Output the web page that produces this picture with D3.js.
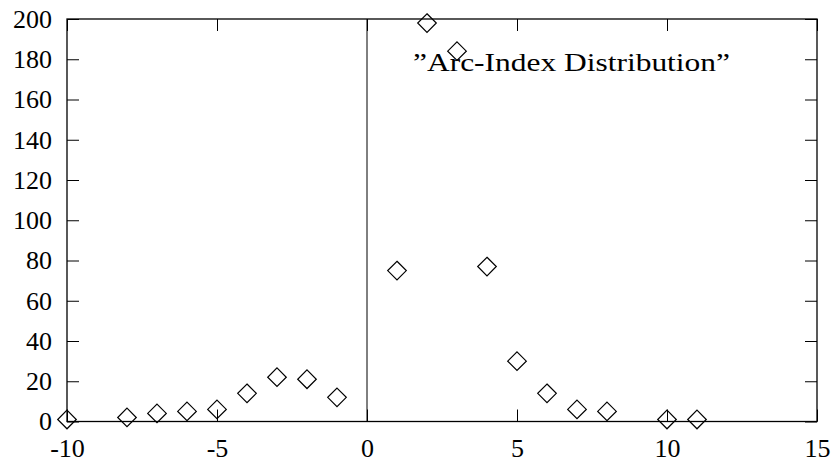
<!DOCTYPE html>
<html>
<head>
<meta charset="utf-8">
<script src="https://cdn.jsdelivr.net/npm/d3@7"></script>
<style>
  body { margin: 0; background: #fff; }
  text { font-family: "Liberation Serif", "DejaVu Serif", serif; fill: #000; }
</style>
</head>
<body>
<div id="chart"></div>
<script>
// arc index values and their counts
const arcIndex = [-10, -8, -7, -6, -5, -4, -3, -2, -1, 1, 2, 3, 4, 5, 6, 7, 8, 10, 11];
const counts = [1, 2, 4, 5, 6, 14, 22, 21, 12, 75, 198, 184, 77, 30, 14, 6, 5, 1, 1];
const xTicks = [-10, -5, 0, 5, 10, 15];
const yTicks = [0, 20, 40, 60, 80, 100, 120, 140, 160, 180, 200];
const seriesLabel = '\u201DArc-Index Distribution\u201D';

const width = 832, height = 463;
const margin = { top: 19, right: 15, bottom: 41.5, left: 67 };
const chartWidth = width - margin.left - margin.right;
const chartHeight = height - margin.top - margin.bottom;

const svg = d3.select('#chart').append('svg')
  .attr('width', width)
  .attr('height', height);

const chart = svg.append('g')
  .attr('transform', `translate(${margin.left},${margin.top})`);

const x = d3.scaleLinear().domain([-10, 15]).range([0, chartWidth]);
const y = d3.scaleLinear().domain([0, 200]).range([chartHeight, 0]);
const tickLen = 12;

// x = 0 axis line
chart.append('line')
  .attr('x1', x(0)).attr('x2', x(0))
  .attr('y1', 0).attr('y2', chartHeight)
  .attr('stroke', '#000').attr('stroke-width', 1);

// inward ticks on all four sides
const bottomAxis = chart.append('g')
  .attr('transform', `translate(0,${chartHeight})`)
  .call(d3.axisBottom(x).tickValues(xTicks).tickSizeInner(-tickLen).tickSizeOuter(0));
const topAxis = chart.append('g')
  .call(d3.axisTop(x).tickValues(xTicks).tickSizeInner(-tickLen).tickSizeOuter(0).tickFormat(''));
const leftAxis = chart.append('g')
  .call(d3.axisLeft(y).tickValues(yTicks).tickSizeInner(-tickLen).tickSizeOuter(0).tickPadding(tickLen + 3));
const rightAxis = chart.append('g')
  .attr('transform', `translate(${chartWidth},0)`)
  .call(d3.axisRight(y).tickValues(yTicks).tickSizeInner(-tickLen).tickSizeOuter(0).tickFormat(''));

[bottomAxis, topAxis, leftAxis, rightAxis].forEach(g => {
  g.select('.domain').remove();
  g.selectAll('line').attr('stroke', '#000').attr('stroke-width', 1);
  g.selectAll('text').attr('font-size', '26px').attr('fill', '#000')
    .attr('font-family', '"Liberation Serif", serif');
});
bottomAxis.selectAll('text')
  .attr('y', 35.5)
  .attr('dy', 0)
  .text(d => d < 0 ? '-' + Math.abs(d) : d);

// border
chart.append('rect')
  .attr('x', 0).attr('y', 0)
  .attr('width', chartWidth).attr('height', chartHeight)
  .attr('fill', 'none').attr('stroke', '#000').attr('stroke-width', 1.3);

// diamond markers
const r = 9.3;
chart.selectAll('path.pt')
  .data(arcIndex.map((v, i) => ({ x: v, y: counts[i] })))
  .join('path')
  .attr('class', 'pt')
  .attr('d', d => {
    const cx = x(d.x), cy = y(d.y);
    return `M${cx},${cy - r}L${cx + r},${cy}L${cx},${cy + r}L${cx - r},${cy}Z`;
  })
  .attr('fill', 'none')
  .attr('stroke', '#000')
  .attr('stroke-width', 1.2);

// key label
chart.append('text')
  .attr('x', 413 - margin.left)
  .attr('y', 71 - margin.top)
  .attr('font-size', '26px')
  .attr('textLength', 317)
  .attr('lengthAdjust', 'spacingAndGlyphs')
  .text(seriesLabel);
</script>
</body>
</html>
